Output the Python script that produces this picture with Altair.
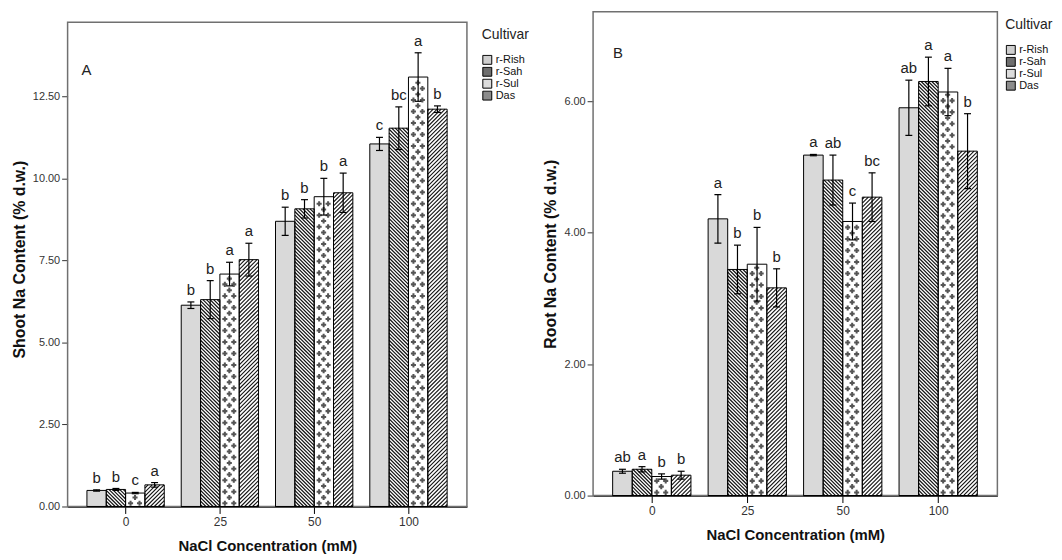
import altair as alt
import pandas as pd

concentrations = ["0", "25", "50", "100"]
cultivars = ["r-Rish", "r-Sah", "r-Sul", "Das"]

# Panel A: shoot Na content, rows = concentration, columns = cultivar
shoot_mean = [[0.49, 0.52, 0.41, 0.66],
              [6.14, 6.31, 7.09, 7.53],
              [8.70, 9.08, 9.45, 9.57],
              [11.06, 11.54, 13.10, 12.12]]
shoot_err = [[0.02, 0.03, 0.02, 0.07],
             [0.10, 0.58, 0.36, 0.50],
             [0.43, 0.28, 0.56, 0.60],
             [0.20, 0.65, 0.74, 0.10]]
shoot_letters = [["b", "b", "c", "a"],
                 ["b", "b", "a", "a"],
                 ["b", "b", "b", "a"],
                 ["c", "bc", "a", "b"]]

# Panel B: root Na content
root_mean = [[0.37, 0.40, 0.29, 0.31],
             [4.21, 3.44, 3.52, 3.16],
             [5.18, 4.80, 4.17, 4.54],
             [5.90, 6.30, 6.14, 5.24]]
root_err = [[0.03, 0.04, 0.04, 0.06],
            [0.37, 0.37, 0.56, 0.29],
            [0.01, 0.38, 0.28, 0.37],
            [0.42, 0.37, 0.36, 0.57]]
root_letters = [["ab", "a", "b", "b"],
                ["a", "b", "b", "b"],
                ["a", "ab", "c", "bc"],
                ["ab", "a", "a", "b"]]

legend_fills = ["#cfcfcf", "#6e6e6e", "#dcdcdc", "#8c8c8c"]

XMIN, XMAX, BW = -0.615, 3.62, 0.205
FONT = "Liberation Sans, Arial, sans-serif"
NARROW = "Liberation Sans Narrow, Arial Narrow, Liberation Sans, Arial, sans-serif"
LABEL_EXPR = "[" + ",".join("'%s'" % c for c in concentrations) + "][datum.value]"
FRAME = "#707070"


def make_df(mean, err, letters):
    rows = []
    for gi, conc in enumerate(concentrations):
        for ci, cult in enumerate(cultivars):
            rows.append(dict(conc=conc, gi=gi, cultivar=cult, ci=ci,
                             mean=mean[gi][ci], err=err[gi][ci],
                             letter=letters[gi][ci]))
    return pd.DataFrame(rows)


def panel(df, W, H, ymax, frame_top, yticks, ytitle, tag, tag_x, tag_y, leg_x, leg_y):
    kx = W / (XMAX - XMIN)
    ky = H / ymax
    w = BW * kx
    xs = alt.Scale(domain=[XMIN, XMAX], nice=False, zero=False)
    ys = alt.Scale(domain=[0, ymax], nice=False, zero=True)
    xaxis = alt.Axis(values=[0, 1, 2, 3], labelExpr=LABEL_EXPR, grid=False,
                     tickSize=7, labelPadding=3, title="NaCl Concentration (mM)",
                     titlePadding=11, domainColor="black", domainWidth=1.5,
                     tickColor="black", titleFontSize=15, labelFontSize=12)
    yaxis = alt.Axis(values=yticks, format=".2f", grid=False, tickSize=6,
                     labelPadding=2, title=ytitle, titlePadding=5, domain=False,
                     tickColor="#333333", titleFontSize=16, labelFontSize=11)

    def X(f):
        return alt.X(f, type="quantitative", scale=xs, axis=xaxis)

    def Y(f):
        return alt.Y(f, type="quantitative", scale=ys, axis=yaxis)

    base = alt.Chart(df).transform_calculate(
        xc=f"datum.gi + (datum.ci - 1.5) * {BW}"
    ).transform_calculate(
        xl=f"datum.xc - {BW / 2}",
        xr=f"datum.xc + {BW / 2}",
        lo="datum.mean - datum.err",
        hi="datum.mean + datum.err",
        zero="0",
        hp=f"datum.mean * {ky}",
    )

    frame = alt.Chart(pd.DataFrame({"f": [0]})).mark_rect(
        fill="white", fillOpacity=0, stroke=FRAME, strokeWidth=1.5
    ).encode(
        x=alt.X(datum=XMIN, type="quantitative", scale=xs, axis=xaxis),
        x2=alt.datum(XMAX),
        y=alt.Y(datum=0, type="quantitative", scale=ys, axis=yaxis),
        y2=alt.datum(frame_top),
    )

    bars = base.mark_rect(strokeWidth=0).encode(
        x=X("xl"), x2="xr", y=Y("mean"), y2="zero",
        fill=alt.condition("datum.ci == 0", alt.value("#d9d9d9"), alt.value("white")),
    )

    leg = base.mark_rect(stroke="black", strokeWidth=1).encode(
        x=X("xl"), x2="xr", y=Y("zero"), y2="zero",
        color=alt.Color("cultivar:N",
                        scale=alt.Scale(domain=cultivars, range=legend_fills),
                        legend=alt.Legend(title="Cultivar", orient="none",
                                          legendX=leg_x, legendY=leg_y)),
    )

    def stripes(ci, spacing, back, sw):
        t = base.transform_filter(f"datum.ci == {ci}").transform_calculate(
            k=f"sequence(0, ceil(({w} + datum.hp) / {spacing}) + 2)"
        ).transform_flatten(["k"])
        if back:
            t = t.transform_calculate(C=f"(datum.k + 0.5) * {spacing}").transform_calculate(
                u0="max(0, datum.C - datum.hp)", u1=f"min({w}, datum.C)"
            ).transform_calculate(v0="datum.C - datum.u0", v1="datum.C - datum.u1")
        else:
            t = t.transform_calculate(D=f"-{w} + (datum.k + 0.5) * {spacing}").transform_calculate(
                u0="max(0, -datum.D)", u1=f"min({w}, datum.hp - datum.D)"
            ).transform_calculate(v0="datum.u0 + datum.D", v1="datum.u1 + datum.D")
        t = t.transform_filter("datum.u1 - datum.u0 > 0.3").transform_calculate(
            lx0=f"datum.xl + datum.u0 / {kx}", lx1=f"datum.xl + datum.u1 / {kx}",
            ly0=f"datum.v0 / {ky}", ly1=f"datum.v1 / {ky}",
        )
        return t.mark_rule(color="#111111", strokeWidth=sw).encode(
            x=X("lx0"), x2="lx1", y=Y("ly0"), y2="ly1")

    sah = stripes(1, 3.6, True, 1.2)
    das = stripes(3, 4.0, False, 1.1)

    sx, sy = 9.0, 5.8
    sul = base.transform_filter("datum.ci == 2").transform_calculate(
        j=f"sequence(0, ceil(datum.hp / {sy}) + 1)"
    ).transform_flatten(["j"]).transform_calculate(
        i="sequence(0, 3)"
    ).transform_flatten(["i"]).transform_calculate(
        pu=f"5 + datum.i * {sx} + (datum.j % 2) * {sx / 2}",
        pv=f"3.2 + datum.j * {sy}",
    ).transform_filter(
        f"datum.pu >= 2.2 && datum.pu <= {w - 2.2} && datum.pv <= datum.hp - 2.2"
    ).transform_calculate(
        px=f"datum.xl + datum.pu / {kx}", py=f"datum.pv / {ky}"
    ).mark_point(shape="cross", filled=True, size=26, color="#555555", opacity=1,
                 strokeWidth=0).encode(x=X("px"), y=Y("py"))

    outline = base.mark_rect(fill="white", fillOpacity=0, stroke="black",
                             strokeWidth=1).encode(
        x=X("xl"), x2="xr", y=Y("mean"), y2="zero")

    err_rule = base.mark_rule(color="black", strokeWidth=1.2).encode(
        x=X("xc"), y=Y("lo"), y2="hi")
    cap_hi = base.mark_tick(orient="horizontal", size=7, thickness=1.2,
                            color="black", opacity=1).encode(x=X("xc"), y=Y("hi"))
    cap_lo = base.mark_tick(orient="horizontal", size=7, thickness=1.2,
                            color="black", opacity=1).encode(x=X("xc"), y=Y("lo"))

    letters = base.mark_text(baseline="bottom", dy=-4, fontSize=15, font=NARROW,
                             color="#222222").encode(
        x=X("xc"), y=Y("hi"), text="letter:N")

    tag_text = alt.Chart(pd.DataFrame({"tag": [tag]})).mark_text(
        align="left", baseline="middle", fontSize=15, font=FONT, color="#222222"
    ).encode(x=alt.value(tag_x), y=alt.value(tag_y), text="tag:N")

    return alt.layer(frame, bars, leg, sah, das, sul, outline, err_rule, cap_hi,
                     cap_lo, letters, tag_text).properties(width=W, height=H)


panel_a = panel(make_df(shoot_mean, shoot_err, shoot_letters), 402, 498, 15.09, 14.77,
                [0, 2.5, 5, 7.5, 10, 12.5], "Shoot Na Content (% d.w.)", "A",
                14, 59, 417, 16)
panel_b = panel(make_df(root_mean, root_err, root_letters), 407, 487, 7.36, 7.36,
                [0, 2, 4, 6], "Root Na Content (% d.w.)", "B",
                20, 42, 415, 6)

chart = alt.hconcat(panel_a, panel_b, spacing=12).resolve_scale(
    x="independent", y="independent", color="independent"
).resolve_legend(color="independent").properties(
    padding={"left": 2, "top": 0, "right": 0, "bottom": 0}
).configure_view(
    stroke="transparent"
).configure_axis(
    labelFont=FONT, labelColor="#333333", titleFont=FONT, titleFontWeight="bold",
    titleColor="#111111"
).configure_legend(
    titleFont=FONT, titleFontSize=14, titleFontWeight="normal", titleColor="#222222",
    titlePadding=13, labelFont=FONT, labelFontSize=11, labelColor="#111111",
    symbolType="square", symbolSize=81, symbolStrokeColor="black",
    symbolStrokeWidth=1, rowPadding=0, clipHeight=10.7, labelOffset=3, padding=0
)

chart.save("out.html", embed_options={"renderer": "svg", "actions": False})
